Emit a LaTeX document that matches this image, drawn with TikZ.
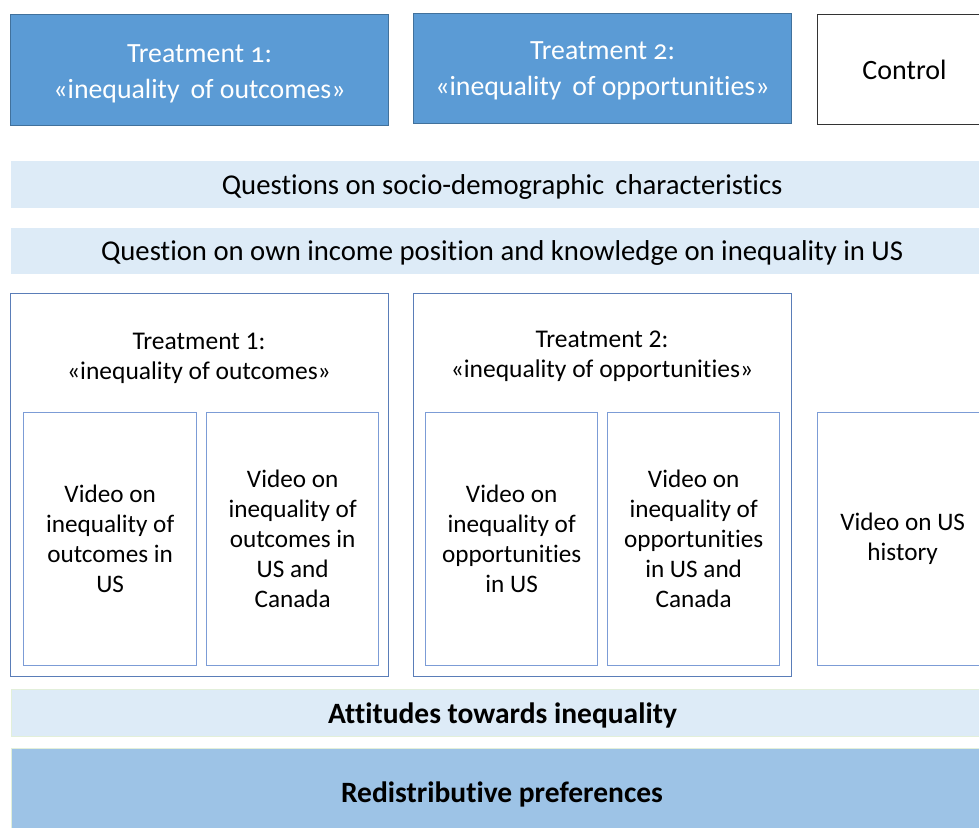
\documentclass[tikz,border=0pt]{standalone}
\usepackage{fontspec}
\setmainfont{Carlito}[Ligatures=NoCommon]
\newfontfamily\oldnum{Carlito}[Numbers=OldStyle,Ligatures=NoCommon]
\definecolor{darkfill}{HTML}{5B9BD5}
\definecolor{darkline}{HTML}{41719C}
\definecolor{lightfill}{HTML}{DDEBF7}
\definecolor{midfill}{HTML}{9DC3E6}
\definecolor{groupline}{HTML}{5A7DB8}
\definecolor{innerline}{HTML}{7C9CD6}
\definecolor{faintgreen}{HTML}{E2EFDA}
\begin{document}
\begin{tikzpicture}[x=1pt,y=-1pt,
  box/.style={anchor=north west,inner sep=0pt},
  topbox/.style={box,draw=darkline,line width=1pt,fill=darkfill},
  toptext/.style={text=white,align=center,font=\oldnum\fontsize{27.8}{36}\selectfont},
  ctrlbox/.style={box,draw=black!80,line width=1pt,fill=white,align=center,
     font=\fontsize{28}{36}\selectfont},
  bar/.style={box,fill=lightfill},
  boldbar/.style={bar,draw=faintgreen,line width=1pt},
  bartext/.style={align=center,font=\fontsize{28.7}{32}\selectfont},
  boldtext/.style={align=center,font=\bfseries\fontsize{29.5}{32}\selectfont},
  groupbox/.style={box,draw=groupline,line width=0.9pt},
  vidbox/.style={box,draw=innerline,line width=1.3pt,align=center,font=\fontsize{25.2}{30}\selectfont},
  grouptitle/.style={align=center,font=\fontsize{25.5}{30}\selectfont}]
\useasboundingbox (0,0) rectangle (979,827);
% top row
\node[topbox,minimum width=378pt,minimum height=111pt] (t1) at (10,14) {};
\node[toptext] (t1t) at ([yshift=-4pt]t1.center) {Treatment 1:\\«inequality\, of outcomes»};
\node[topbox,minimum width=378pt,minimum height=110pt] (t2) at (413,13) {};
\node[toptext] (t2t) at ([yshift=-2.5pt]t2.center) {Treatment 2:\\«inequality\, of opportunities»};
\node[ctrlbox,minimum width=174pt,minimum height=110pt] (ctrl) at (817,14) {Control};
% bars
\node[bar,minimum width=982pt,minimum height=47pt] (socio) at (11,161) {};
\node[bartext] (sociot) at ([yshift=-2pt]socio.center) {Questions on socio-demographic\, characteristics};
\node[bar,minimum width=982pt,minimum height=46pt] (income) at (11,228) {};
\node[bartext] (incomet) at ([yshift=-2pt]income.center) {Question on own income position and knowledge on inequality in US};
% groups
\node[groupbox,minimum width=378pt,minimum height=383pt] (g1) at (10,293) {};
\node[groupbox,minimum width=378pt,minimum height=383pt] (g2) at (413,293) {};
\node[grouptitle,anchor=center] (g1t) at (199,358) {Treatment 1:\\«inequality of outcomes»};
\node[grouptitle,anchor=center] (g2t) at (602,356) {Treatment 2:\\«inequality of opportunities»};
% video boxes
\node[vidbox,minimum width=173pt,minimum height=253pt] (v1) at (23,412)
  {Video on\\inequality of\\outcomes in\\US};
\node[vidbox,minimum width=172pt,minimum height=253pt] (v2) at (206,412)
  {Video on\\inequality of\\outcomes in\\US and\\Canada};
\node[vidbox,minimum width=172pt,minimum height=253pt] (v3) at (425,412)
  {Video on\\inequality of\\opportunities\\in US};
\node[vidbox,minimum width=172pt,minimum height=253pt] (v4) at (607,412)
  {Video on\\inequality of\\opportunities\\in US and\\Canada};
\node[vidbox,minimum width=170pt,minimum height=253pt] (v5) at (817,412)
  {Video on US\\history};
% bottom bars
\node[boldbar,minimum width=982pt,minimum height=47pt] (att) at (11,689) {};
\node[boldtext] (attt) at ([yshift=-2pt]att.center) {Attitudes towards inequality};
\node[boldbar,fill=midfill,minimum width=982pt,minimum height=82pt] (redis) at (11,748) {};
\node[boldtext] (redist) at (502,794) {Redistributive preferences};
\end{tikzpicture}
\end{document}
